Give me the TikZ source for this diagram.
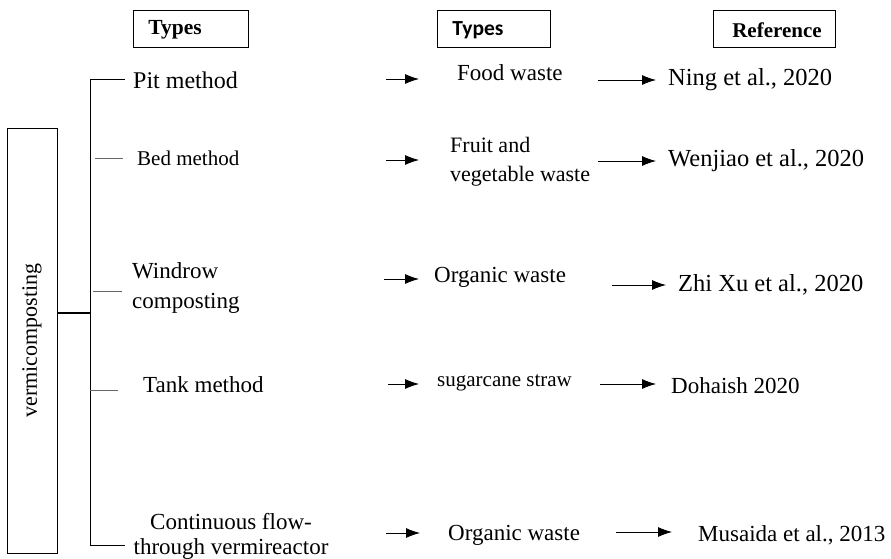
\documentclass[tikz,border=0pt]{standalone}
\usepackage{fontspec}
\setmainfont{Liberation Serif}
\newfontfamily\calfont{Carlito}
\usetikzlibrary{arrows.meta}
\begin{document}
\begin{tikzpicture}[x=1pt,y=-1pt,
  txt/.style={inner sep=0pt,font=\fontsize{23}{30}\selectfont},
  big/.style={font=\fontsize{24.5}{30}\selectfont},
  hdr/.style={draw,line width=0.9pt,minimum height=37pt,inner sep=0pt},
  arr/.style={line width=0.8pt,-{Latex[length=14pt,width=10pt]}},
  stub/.style={draw=black!60,line width=1pt}]
\useasboundingbox (0,0) rectangle (891,559);
% header boxes
\node[hdr,minimum width=115pt] (h1) at (190.5,28.5) {};
\node[inner sep=0pt,font=\fontsize{21.5}{24}\selectfont\bfseries] (h1t) at (175,30) {Types};
\node[hdr,minimum width=113pt] (h2) at (493.5,28.5) {};
\node[inner sep=0pt,font=\fontsize{21.5}{24}\calfont\bfseries] (h2t) at (478,30) {Types};
\node[hdr,minimum width=122pt] (h3) at (774.5,28.5) {};
\node[inner sep=0pt,font=\fontsize{21}{24}\selectfont\bfseries] (h3t) at (777,30) {Reference};
% left box
\node[draw,line width=0.9pt,minimum width=425pt,minimum height=50pt,rotate=90,txt,font=\fontsize{22}{26}\selectfont] (vc) at (32,340.5) {vermicomposting};
\coordinate (jn) at (90,313);
\draw[line width=1.4pt] (vc.south |- jn) -- (jn);
\coordinate (top) at (90,80);
\coordinate (bot) at (90,545);
\draw[line width=1pt] (top) -- (bot);
% branches
\coordinate (topE) at (125,80);
\coordinate (botE) at (125,545);
\draw[line width=1pt] (top) -- (topE);
\draw[line width=1pt] (bot) -- (botE);
\coordinate (b2a) at (95,158); \coordinate (b2b) at (123,158);
\coordinate (b3a) at (93,291); \coordinate (b3b) at (122,291);
\coordinate (b4a) at (90,390); \coordinate (b4b) at (118,390);
\draw[stub] (b2a) -- (b2b);
\draw[stub] (b3a) -- (b3b);
\draw[stub] (b4a) -- (b4b);
% column 1 texts
\node[txt,anchor=west,font=\fontsize{24}{30}\selectfont] (t1) at (133,80) {Pit method};
\node[txt,anchor=west,font=\fontsize{21}{26}\selectfont] (t2) at (137,158) {Bed method};
\node[txt,anchor=west,align=left] (t3) at (132,288) {Windrow\\composting};
\node[txt,anchor=west] (t4) at (143,385) {Tank method};
\node[txt,align=center,font=\fontsize{23}{25}\selectfont] (t5) at (231,536) {Continuous flow-\\through vermireactor};
% column 2 texts
\node[txt,anchor=west] (m1) at (457,73) {Food waste};
\node[txt,anchor=west,align=left,font=\fontsize{22}{29}\selectfont] (m2) at (450,162) {Fruit and\\vegetable waste};
\node[txt,anchor=west] (m3) at (434,277) {Organic waste};
\node[txt,anchor=west,font=\fontsize{21}{26}\selectfont] (m4) at (437,383) {sugarcane straw};
\node[txt,anchor=west] (m5) at (448,535) {Organic waste};
% column 3 texts
\node[txt,big,anchor=west] (r1) at (668,80) {Ning et al., 2020};
\node[txt,big,anchor=west] (r2) at (668,161) {Wenjiao et al., 2020};
\node[txt,big,anchor=west] (r3) at (678,285) {Zhi Xu et al., 2020};
\node[txt,anchor=west] (r4) at (671,386) {Dohaish 2020};
\node[txt,anchor=west] (r5) at (698,535) {Musaida et al., 2013};
% arrows col 1
\coordinate (a1s) at (386,79); \coordinate (a1e) at (419,79);
\coordinate (a2s) at (386,160); \coordinate (a2e) at (419,160);
\coordinate (a3s) at (384,279); \coordinate (a3e) at (419,279);
\coordinate (a4s) at (388,384); \coordinate (a4e) at (419,384);
\coordinate (a5s) at (386,533); \coordinate (a5e) at (420,533);
\foreach \i in {1,...,5} {\draw[arr] (a\i s) -- (a\i e);}
% arrows col 2
\coordinate (c1s) at (598,80); \coordinate (c1e) at (656,80);
\coordinate (c2s) at (598,161); \coordinate (c2e) at (656,161);
\coordinate (c3s) at (612,285); \coordinate (c3e) at (666,285);
\coordinate (c4s) at (600,384); \coordinate (c4e) at (656,384);
\coordinate (c5s) at (616,532); \coordinate (c5e) at (672,532);
\foreach \i in {1,...,5} {\draw[arr] (c\i s) -- (c\i e);}
\end{tikzpicture}
\end{document}
